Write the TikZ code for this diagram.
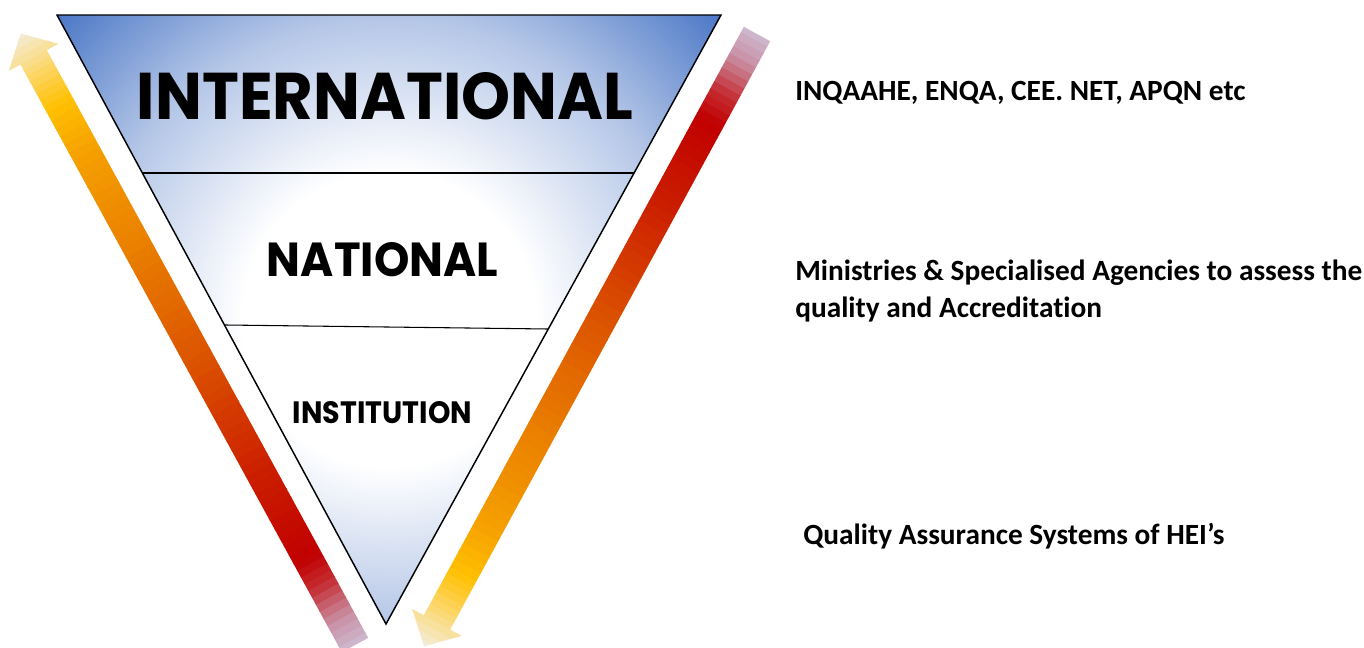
\documentclass[tikz,border=0pt]{standalone}
\usepackage{fontspec}
\setmainfont{Carlito}[Ligatures=NoCommon]
\newfontfamily\berlin{Poppins}
\usetikzlibrary{calc}
\definecolor{triblue}{HTML}{4472C4}
\definecolor{trimid}{HTML}{B4C6E7}
\definecolor{ca}{HTML}{CFC6DC}
\definecolor{cb}{HTML}{C98FA4}
\definecolor{cc}{HTML}{C42A2F}
\definecolor{cd}{HTML}{C00000}
\definecolor{ce}{HTML}{CC2000}
\definecolor{cf}{HTML}{DC5500}
\definecolor{cg}{HTML}{E97E00}
\definecolor{ch}{HTML}{F5A000}
\definecolor{ci}{HTML}{FFC000}
\definecolor{cj}{HTML}{FDD35A}
\definecolor{ck}{HTML}{F9DF94}
\definecolor{cl}{HTML}{F3EEE2}
\pgfdeclareradialshading{trishade}{\pgfpoint{0bp}{0bp}}{color(0bp)=(white); color(8bp)=(white); color(16.5bp)=(trimid); color(25bp)=(triblue); color(50bp)=(triblue)}
\newcommand\gradseg[5]{%
  \foreach \j in {1,...,#5}{%
    \pgfmathtruncatemacro\pp{100*(\j-0.5)/#5}%
    \pgfmathsetmacro\xa{#1+(#2-#1)*(\j-1)/#5}%
    \pgfmathsetmacro\xb{#1+(#2-#1)*\j/#5+0.6}%
    \fill[#4!\pp!#3] (\xa,-30) rectangle (\xb,30);
  }}
\newcommand\arrowbody{%
  \clip (0,-15) -- (670,-15) -- (670,-28) -- (697,0) -- (670,28) -- (670,15) -- (0,15) -- cycle;
  \gradseg{-10}{30}{ca}{cb}{5}
  \gradseg{30}{70}{cb}{cc}{5}
  \gradseg{70}{100}{cc}{cd}{4}
  \gradseg{100}{200}{cd}{ce}{10}
  \gradseg{200}{330}{ce}{cf}{13}
  \gradseg{330}{450}{cf}{cg}{12}
  \gradseg{450}{560}{cg}{ch}{11}
  \gradseg{560}{615}{ch}{ci}{6}
  \gradseg{615}{650}{ci}{cj}{5}
  \gradseg{650}{670}{cj}{ck}{3}
  \gradseg{670}{700}{ck}{cl}{4}
}
\tikzset{
  tritxt/.style={inner sep=0pt, font=\berlin\bfseries},
  sidetxt/.style={inner sep=0pt, anchor=base west, font=\fontsize{22}{26}\selectfont\bfseries},
  edge/.style={draw=black, line width=1.1pt, line join=miter},
  divider/.style={draw=black, line width=0.8pt}
}
\begin{document}
\begin{tikzpicture}[x=0.75pt, y=-0.75pt]
\useasboundingbox (0,0) rectangle (1364,647);
\fill[white] (0,0) rectangle (1364,647);
% arrows
\begin{scope}[shift={(355,645)}, rotate=118.67, x=0.75pt, y=0.75pt]
  \arrowbody
\end{scope}
\begin{scope}[shift={(757,34)}, rotate=241.46, x=0.75pt, y=0.75pt]
  \arrowbody
\end{scope}
% triangle
\coordinate (TL) at (57,15);
\coordinate (TR) at (721,15);
\coordinate (B) at (386,624);
\coordinate (L1) at ($(TL)!0.2594!(B)$);
\coordinate (R1) at ($(TR)!0.2594!(B)$);
\coordinate (L2) at ($(TL)!0.509!(B)$);
\coordinate (R2) at ($(TR)!0.5156!(B)$);
\begin{scope}
  \clip (TL) -- (TR) -- (B) -- cycle;
  \shade[shading=trishade] (389,320) circle (460);
\end{scope}
\draw[divider] (L1) -- (R1);
\draw[divider] (L2) -- (R2);
\draw[edge] (TL) -- (TR) -- (B) -- cycle;
% level labels
\node[tritxt] (intl) at (385,96.5) {\resizebox{372pt}{35.25pt}{INTERNATIONAL}};
\node[tritxt] (natl) at (382.5,260) {\resizebox{173.25pt}{25.5pt}{NATIONAL}};
\node[tritxt] (inst) at (382.5,413) {\resizebox{134.25pt}{16.5pt}{INSTITUTION}};
% side texts
\node[sidetxt] (t1) at (795,100) {INQAAHE, ENQA, CEE. NET, APQN etc};
\node[sidetxt] (t2) at (795,280) {Ministries \& Specialised Agencies to assess the};
\node[sidetxt] (t3) at (795,317) {quality and Accreditation};
\node[sidetxt] (t4) at (803,544) {Quality Assurance Systems of HEI’s};
\end{tikzpicture}
\end{document}
